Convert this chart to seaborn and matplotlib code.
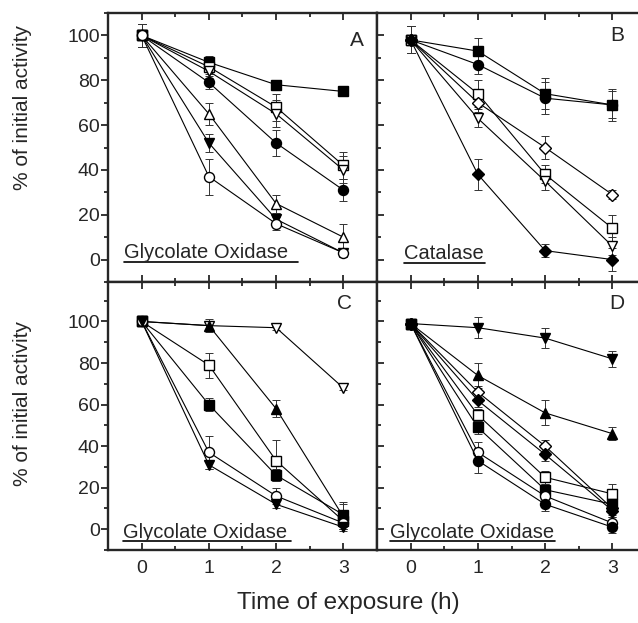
import matplotlib
matplotlib.use("Agg")
import matplotlib.pyplot as plt
import seaborn as sns
import pandas as pd
from matplotlib.ticker import MultipleLocator

sns.set_style("ticks")
plt.rcParams['font.family'] = ['Liberation Sans', 'DejaVu Sans']

times = [0, 1, 2, 3]
x_ticks = [0, 1, 2, 3]
y_ticks = [0, 20, 40, 60, 80, 100]

# Panel A - Glycolate Oxidase
A_fsq = [100, 88, 78, 75];   A_fsq_e = [5, 3, 1, 1]
A_osq = [100, 86, 68, 42];   A_osq_e = [5, 3, 6, 6]
A_odn = [100, 84, 65, 40];   A_odn_e = [5, 3, 6, 6]
A_fci = [100, 79, 52, 31];   A_fci_e = [5, 3, 6, 5]
A_oup = [100, 65, 25, 10];   A_oup_e = [5, 5, 4, 6]
A_fdn = [100, 52, 18, 3];    A_fdn_e = [5, 4, 3, 2]
A_oci = [100, 37, 16, 3];    A_oci_e = [5, 8, 3, 2]

# Panel B - Catalase
B_fsq = [98, 93, 74, 69];    B_fsq_e = [6, 6, 7, 7]
B_fci = [98, 87, 72, 69];    B_fci_e = [6, 4, 7, 6]
B_osq = [98, 74, 38, 14];    B_osq_e = [6, 6, 4, 6]
B_odi = [98, 70, 50, 29];    B_odi_e = [6, 4, 5, 2]
B_odn = [98, 63, 35, 6];     B_odn_e = [6, 4, 4, 4]
B_fdi = [98, 38, 4, 0];      B_fdi_e = [6, 7, 3, 5]

# Panel C - Glycolate Oxidase
C_odn = [100, 98, 97, 68];   C_odn_e = [2, 2, 1, 1]
C_fup = [100, 98, 58, 6];    C_fup_e = [2, 3, 4, 6]
C_osq = [100, 79, 33, 4];    C_osq_e = [2, 6, 10, 4]
C_fsq = [100, 60, 26, 7];    C_fsq_e = [2, 3, 3, 6]
C_oci = [100, 37, 16, 3];    C_oci_e = [2, 8, 4, 3]
C_fdn = [100, 31, 12, 1];    C_fdn_e = [2, 2, 2, 2]

# Panel D - Glycolate Oxidase
D_fdn = [99, 97, 92, 82];    D_fdn_e = [2, 5, 5, 4]
D_fup = [99, 74, 56, 46];    D_fup_e = [2, 6, 6, 3]
D_odi = [99, 66, 40, 10];    D_odi_e = [2, 3, 3, 3]
D_fdi = [99, 62, 36, 9];     D_fdi_e = [2, 3, 3, 3]
D_osq = [99, 55, 25, 17];    D_osq_e = [2, 3, 3, 5]
D_fsq = [99, 49, 19, 12];    D_fsq_e = [2, 3, 3, 3]
D_oci = [99, 37, 16, 3];     D_oci_e = [2, 5, 3, 3]
D_fci = [99, 33, 12, 1];     D_fci_e = [2, 6, 3, 3]

panels = {
    'A': [(A_fsq, A_fsq_e, 's', True), (A_osq, A_osq_e, 's', False),
          (A_odn, A_odn_e, 'v', False), (A_fci, A_fci_e, 'o', True),
          (A_oup, A_oup_e, '^', False), (A_fdn, A_fdn_e, 'v', True),
          (A_oci, A_oci_e, 'o', False)],
    'B': [(B_fsq, B_fsq_e, 's', True), (B_fci, B_fci_e, 'o', True),
          (B_osq, B_osq_e, 's', False), (B_odi, B_odi_e, 'D', False),
          (B_odn, B_odn_e, 'v', False), (B_fdi, B_fdi_e, 'D', True)],
    'C': [(C_odn, C_odn_e, 'v', False), (C_fup, C_fup_e, '^', True),
          (C_osq, C_osq_e, 's', False), (C_fsq, C_fsq_e, 's', True),
          (C_oci, C_oci_e, 'o', False), (C_fdn, C_fdn_e, 'v', True)],
    'D': [(D_fdn, D_fdn_e, 'v', True), (D_fup, D_fup_e, '^', True),
          (D_odi, D_odi_e, 'D', False), (D_fdi, D_fdi_e, 'D', True),
          (D_osq, D_osq_e, 's', False), (D_fsq, D_fsq_e, 's', True),
          (D_oci, D_oci_e, 'o', False), (D_fci, D_fci_e, 'o', True)],
}

labels = {'A': 'Glycolate Oxidase', 'B': 'Catalase',
          'C': 'Glycolate Oxidase', 'D': 'Glycolate Oxidase'}

W, H = 638, 623
fig = plt.figure(figsize=(W / 100, H / 100), dpi=100)

def pos(l, r, t, b):
    return [l / W, 1 - b / H, (r - l) / W, (b - t) / H]

layout = {
    'A': pos(108, 377, 13, 282),
    'B': pos(377, 646, 13, 282),
    'C': pos(108, 377, 282, 550),
    'D': pos(377, 646, 282, 550),
}
ylims = {'A': (-10, 110), 'B': (-10, 110), 'C': (-10, 119), 'D': (-10, 119)}
letter_pos = {'A': (0.925, 0.898), 'B': (0.894, 0.915), 'C': (0.88, 0.92), 'D': (0.89, 0.92)}
label_pos = {'A': (0.059, 0.108, 0.707), 'B': (0.10, 0.106, 0.40),
             'C': (0.056, 0.066, 0.68), 'D': (0.048, 0.066, 0.66)}

for key, series in panels.items():
    ax = fig.add_axes(layout[key])
    for vals, errs, mk, filled in series:
        df = pd.DataFrame({'t': times, 'v': vals})
        ax.errorbar(times, vals, yerr=errs, fmt='none', ecolor='#333333',
                    elinewidth=0.7, capsize=3, capthick=0.7, zorder=2)
        sns.lineplot(data=df, x='t', y='v', ax=ax, color='black', lw=0.8,
                     marker=mk, markersize=7.2 if mk != 'D' else 6.3,
                     markerfacecolor='black' if filled else 'white',
                     markeredgecolor='black', markeredgewidth=1.0, zorder=3)
    ax.set_xlim(-0.5, 3.5)
    ax.set_ylim(*ylims[key])
    ax.set_xticks(x_ticks)
    ax.set_yticks(y_ticks)
    ax.xaxis.set_minor_locator(MultipleLocator(0.5))
    ax.yaxis.set_minor_locator(MultipleLocator(10))
    ax.set_xlabel('')
    ax.set_ylabel('')
    for s in ax.spines.values():
        s.set_visible(True)
        s.set_linewidth(1.7)
    left_col = key in ('A', 'C')
    bottom_row = key in ('C', 'D')
    ax.tick_params(axis='both', which='both', top=True, right=True,
                   direction='in', width=1.3, labelsize=14)
    ax.tick_params(axis='both', which='major', length=5)
    ax.tick_params(axis='both', which='minor', length=3)
    if left_col:
        ax.tick_params(axis='y', which='both', direction='out')
    ax.tick_params(axis='y', labelleft=left_col, pad=1)
    ax.tick_params(axis='x', labelbottom=bottom_row, pad=7)
    lx, ly = letter_pos[key]
    ax.text(lx, ly, key, transform=ax.transAxes, fontsize=15,
            ha='center', va='center')
    tx, ty, ux = label_pos[key]
    ax.text(tx, ty, labels[key], transform=ax.transAxes, fontsize=14.5,
            ha='left', va='center')
    ax.plot([tx, ux], [ty - 0.034, ty - 0.034], transform=ax.transAxes,
            color='black', lw=1.2, clip_on=False)

fig.text(0.035, 1 - 107 / H, '% of initial activity', rotation=90,
         ha='center', va='center', fontsize=15)
fig.text(0.035, 1 - 403 / H, '% of initial activity', rotation=90,
         ha='center', va='center', fontsize=15)
fig.text(348 / W, 1 - 603 / H, 'Time of exposure (h)', ha='center',
         va='center', fontsize=17.5)

fig.savefig('out.png', dpi=100)
